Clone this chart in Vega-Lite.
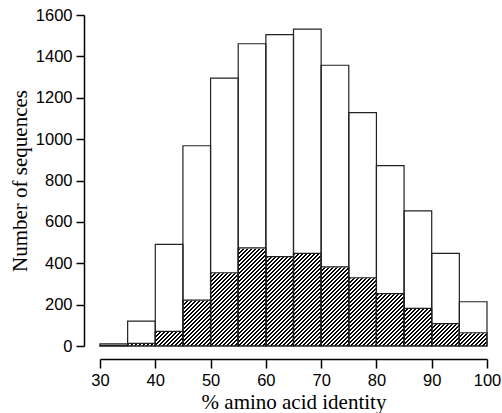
{
"$schema": "https://vega.github.io/schema/vega-lite/v6.json",
"width": 387, "height": 331,
"autosize": {"type": "none"},
"padding": {"left": 100, "top": 15, "right": 15, "bottom": 67},
"background": "white",
"config": {
 "view": {"stroke": null},
 "axis": {"grid": false, "domainColor": "black", "tickColor": "black", "domainWidth": 1.5, "tickWidth": 1.5,
  "labelFont": "Liberation Sans", "labelFontSize": 16.5, "labelColor": "black", "labelFlush": false, "labelPadding": 4,
  "titleFont": "Liberation Serif", "titleFontSize": 21, "titleFontWeight": "normal", "titleColor": "black"},
 "axisX": {"offset": 13, "tickSize": 9, "titlePadding": 3},
 "axisY": {"offset": 16, "tickSize": 8, "titlePadding": 5}
},
"data": {"values": [
 {"bin_start": 30, "bin_end": 35, "total": 10, "hatched": 3},
 {"bin_start": 35, "bin_end": 40, "total": 120, "hatched": 13},
 {"bin_start": 40, "bin_end": 45, "total": 491, "hatched": 71},
 {"bin_start": 45, "bin_end": 50, "total": 968, "hatched": 222},
 {"bin_start": 50, "bin_end": 55, "total": 1295, "hatched": 354},
 {"bin_start": 55, "bin_end": 60, "total": 1461, "hatched": 474},
 {"bin_start": 60, "bin_end": 65, "total": 1505, "hatched": 432},
 {"bin_start": 65, "bin_end": 70, "total": 1532, "hatched": 448},
 {"bin_start": 70, "bin_end": 75, "total": 1357, "hatched": 382},
 {"bin_start": 75, "bin_end": 80, "total": 1128, "hatched": 330},
 {"bin_start": 80, "bin_end": 85, "total": 872, "hatched": 253},
 {"bin_start": 85, "bin_end": 90, "total": 653, "hatched": 182},
 {"bin_start": 90, "bin_end": 95, "total": 448, "hatched": 108},
 {"bin_start": 95, "bin_end": 100, "total": 214, "hatched": 64}
]},
"layer": [
 {
  "transform": [{"aggregate": [
   {"op": "min", "field": "bin_start", "as": "bin_start"},
   {"op": "max", "field": "bin_end", "as": "bin_end"},
   {"op": "max", "field": "hatched", "as": "hatched"}]}],
  "mark": {"type": "rect", "stroke": null, "fill": {"gradient": "linear", "x1": 0, "y1": 0, "x2": 1.2141, "y2": 0.3076, "stops": [
{"offset":0,"color":"#fff"},{"offset":0.16,"color":"#fff"},
{"offset":0.16,"color":"#000"},{"offset":0.163,"color":"#000"},{"offset":0.163,"color":"#fff"},{"offset":0.168,"color":"#fff"},
{"offset":0.168,"color":"#000"},{"offset":0.171,"color":"#000"},{"offset":0.171,"color":"#fff"},{"offset":0.176,"color":"#fff"},
{"offset":0.176,"color":"#000"},{"offset":0.179,"color":"#000"},{"offset":0.179,"color":"#fff"},{"offset":0.184,"color":"#fff"},
{"offset":0.184,"color":"#000"},{"offset":0.187,"color":"#000"},{"offset":0.187,"color":"#fff"},{"offset":0.192,"color":"#fff"},
{"offset":0.192,"color":"#000"},{"offset":0.195,"color":"#000"},{"offset":0.195,"color":"#fff"},{"offset":0.2,"color":"#fff"},
{"offset":0.2,"color":"#000"},{"offset":0.203,"color":"#000"},{"offset":0.203,"color":"#fff"},{"offset":0.208,"color":"#fff"},
{"offset":0.208,"color":"#000"},{"offset":0.211,"color":"#000"},{"offset":0.211,"color":"#fff"},{"offset":0.216,"color":"#fff"},
{"offset":0.216,"color":"#000"},{"offset":0.219,"color":"#000"},{"offset":0.219,"color":"#fff"},{"offset":0.224,"color":"#fff"},
{"offset":0.224,"color":"#000"},{"offset":0.227,"color":"#000"},{"offset":0.227,"color":"#fff"},{"offset":0.232,"color":"#fff"},
{"offset":0.232,"color":"#000"},{"offset":0.235,"color":"#000"},{"offset":0.235,"color":"#fff"},{"offset":0.24,"color":"#fff"},
{"offset":0.24,"color":"#000"},{"offset":0.243,"color":"#000"},{"offset":0.243,"color":"#fff"},{"offset":0.248,"color":"#fff"},
{"offset":0.248,"color":"#000"},{"offset":0.251,"color":"#000"},{"offset":0.251,"color":"#fff"},{"offset":0.256,"color":"#fff"},
{"offset":0.256,"color":"#000"},{"offset":0.259,"color":"#000"},{"offset":0.259,"color":"#fff"},{"offset":0.264,"color":"#fff"},
{"offset":0.264,"color":"#000"},{"offset":0.267,"color":"#000"},{"offset":0.267,"color":"#fff"},{"offset":0.272,"color":"#fff"},
{"offset":0.272,"color":"#000"},{"offset":0.275,"color":"#000"},{"offset":0.275,"color":"#fff"},{"offset":0.28,"color":"#fff"},
{"offset":0.28,"color":"#000"},{"offset":0.283,"color":"#000"},{"offset":0.283,"color":"#fff"},{"offset":0.288,"color":"#fff"},
{"offset":0.288,"color":"#000"},{"offset":0.291,"color":"#000"},{"offset":0.291,"color":"#fff"},{"offset":0.296,"color":"#fff"},
{"offset":0.296,"color":"#000"},{"offset":0.299,"color":"#000"},{"offset":0.299,"color":"#fff"},{"offset":0.304,"color":"#fff"},
{"offset":0.304,"color":"#000"},{"offset":0.307,"color":"#000"},{"offset":0.307,"color":"#fff"},{"offset":0.312,"color":"#fff"},
{"offset":0.312,"color":"#000"},{"offset":0.315,"color":"#000"},{"offset":0.315,"color":"#fff"},{"offset":0.32,"color":"#fff"},
{"offset":0.32,"color":"#000"},{"offset":0.323,"color":"#000"},{"offset":0.323,"color":"#fff"},{"offset":0.328,"color":"#fff"},
{"offset":0.328,"color":"#000"},{"offset":0.331,"color":"#000"},{"offset":0.331,"color":"#fff"},{"offset":0.336,"color":"#fff"},
{"offset":0.336,"color":"#000"},{"offset":0.339,"color":"#000"},{"offset":0.339,"color":"#fff"},{"offset":0.344,"color":"#fff"},
{"offset":0.344,"color":"#000"},{"offset":0.347,"color":"#000"},{"offset":0.347,"color":"#fff"},{"offset":0.352,"color":"#fff"},
{"offset":0.352,"color":"#000"},{"offset":0.355,"color":"#000"},{"offset":0.355,"color":"#fff"},{"offset":0.36,"color":"#fff"},
{"offset":0.36,"color":"#000"},{"offset":0.363,"color":"#000"},{"offset":0.363,"color":"#fff"},{"offset":0.368,"color":"#fff"},
{"offset":0.368,"color":"#000"},{"offset":0.371,"color":"#000"},{"offset":0.371,"color":"#fff"},{"offset":0.376,"color":"#fff"},
{"offset":0.376,"color":"#000"},{"offset":0.379,"color":"#000"},{"offset":0.379,"color":"#fff"},{"offset":0.384,"color":"#fff"},
{"offset":0.384,"color":"#000"},{"offset":0.387,"color":"#000"},{"offset":0.387,"color":"#fff"},{"offset":0.392,"color":"#fff"},
{"offset":0.392,"color":"#000"},{"offset":0.395,"color":"#000"},{"offset":0.395,"color":"#fff"},{"offset":0.4,"color":"#fff"},
{"offset":0.4,"color":"#000"},{"offset":0.403,"color":"#000"},{"offset":0.403,"color":"#fff"},{"offset":0.408,"color":"#fff"},
{"offset":0.408,"color":"#000"},{"offset":0.411,"color":"#000"},{"offset":0.411,"color":"#fff"},{"offset":0.416,"color":"#fff"},
{"offset":0.416,"color":"#000"},{"offset":0.419,"color":"#000"},{"offset":0.419,"color":"#fff"},{"offset":0.424,"color":"#fff"},
{"offset":0.424,"color":"#000"},{"offset":0.427,"color":"#000"},{"offset":0.427,"color":"#fff"},{"offset":0.432,"color":"#fff"},
{"offset":0.432,"color":"#000"},{"offset":0.435,"color":"#000"},{"offset":0.435,"color":"#fff"},{"offset":0.44,"color":"#fff"},
{"offset":0.44,"color":"#000"},{"offset":0.443,"color":"#000"},{"offset":0.443,"color":"#fff"},{"offset":0.448,"color":"#fff"},
{"offset":0.448,"color":"#000"},{"offset":0.451,"color":"#000"},{"offset":0.451,"color":"#fff"},{"offset":0.456,"color":"#fff"},
{"offset":0.456,"color":"#000"},{"offset":0.459,"color":"#000"},{"offset":0.459,"color":"#fff"},{"offset":0.464,"color":"#fff"},
{"offset":0.464,"color":"#000"},{"offset":0.467,"color":"#000"},{"offset":0.467,"color":"#fff"},{"offset":0.472,"color":"#fff"},
{"offset":0.472,"color":"#000"},{"offset":0.475,"color":"#000"},{"offset":0.475,"color":"#fff"},{"offset":0.48,"color":"#fff"},
{"offset":0.48,"color":"#000"},{"offset":0.483,"color":"#000"},{"offset":0.483,"color":"#fff"},{"offset":0.488,"color":"#fff"},
{"offset":0.488,"color":"#000"},{"offset":0.491,"color":"#000"},{"offset":0.491,"color":"#fff"},{"offset":0.496,"color":"#fff"},
{"offset":0.496,"color":"#000"},{"offset":0.499,"color":"#000"},{"offset":0.499,"color":"#fff"},{"offset":0.504,"color":"#fff"},
{"offset":0.504,"color":"#000"},{"offset":0.507,"color":"#000"},{"offset":0.507,"color":"#fff"},{"offset":0.512,"color":"#fff"},
{"offset":0.512,"color":"#000"},{"offset":0.515,"color":"#000"},{"offset":0.515,"color":"#fff"},{"offset":0.52,"color":"#fff"},
{"offset":0.52,"color":"#000"},{"offset":0.523,"color":"#000"},{"offset":0.523,"color":"#fff"},{"offset":0.528,"color":"#fff"},
{"offset":0.528,"color":"#000"},{"offset":0.531,"color":"#000"},{"offset":0.531,"color":"#fff"},{"offset":0.536,"color":"#fff"},
{"offset":0.536,"color":"#000"},{"offset":0.539,"color":"#000"},{"offset":0.539,"color":"#fff"},{"offset":0.544,"color":"#fff"},
{"offset":0.544,"color":"#000"},{"offset":0.547,"color":"#000"},{"offset":0.547,"color":"#fff"},{"offset":0.552,"color":"#fff"},
{"offset":0.552,"color":"#000"},{"offset":0.555,"color":"#000"},{"offset":0.555,"color":"#fff"},{"offset":0.56,"color":"#fff"},
{"offset":0.56,"color":"#000"},{"offset":0.563,"color":"#000"},{"offset":0.563,"color":"#fff"},{"offset":0.568,"color":"#fff"},
{"offset":0.568,"color":"#000"},{"offset":0.571,"color":"#000"},{"offset":0.571,"color":"#fff"},{"offset":0.576,"color":"#fff"},
{"offset":0.576,"color":"#000"},{"offset":0.579,"color":"#000"},{"offset":0.579,"color":"#fff"},{"offset":0.584,"color":"#fff"},
{"offset":0.584,"color":"#000"},{"offset":0.587,"color":"#000"},{"offset":0.587,"color":"#fff"},{"offset":0.592,"color":"#fff"},
{"offset":0.592,"color":"#000"},{"offset":0.595,"color":"#000"},{"offset":0.595,"color":"#fff"},{"offset":0.6,"color":"#fff"},
{"offset":0.6,"color":"#000"},{"offset":0.603,"color":"#000"},{"offset":0.603,"color":"#fff"},{"offset":0.608,"color":"#fff"},
{"offset":0.608,"color":"#000"},{"offset":0.611,"color":"#000"},{"offset":0.611,"color":"#fff"},{"offset":0.616,"color":"#fff"},
{"offset":0.616,"color":"#000"},{"offset":0.619,"color":"#000"},{"offset":0.619,"color":"#fff"},{"offset":0.624,"color":"#fff"},
{"offset":0.624,"color":"#000"},{"offset":0.627,"color":"#000"},{"offset":0.627,"color":"#fff"},{"offset":0.632,"color":"#fff"},
{"offset":0.632,"color":"#000"},{"offset":0.635,"color":"#000"},{"offset":0.635,"color":"#fff"},{"offset":0.64,"color":"#fff"},
{"offset":0.64,"color":"#000"},{"offset":0.643,"color":"#000"},{"offset":0.643,"color":"#fff"},{"offset":0.648,"color":"#fff"},
{"offset":0.648,"color":"#000"},{"offset":0.651,"color":"#000"},{"offset":0.651,"color":"#fff"},{"offset":0.656,"color":"#fff"},
{"offset":0.656,"color":"#000"},{"offset":0.659,"color":"#000"},{"offset":0.659,"color":"#fff"},{"offset":0.664,"color":"#fff"},
{"offset":0.664,"color":"#000"},{"offset":0.667,"color":"#000"},{"offset":0.667,"color":"#fff"},{"offset":0.672,"color":"#fff"},
{"offset":0.672,"color":"#000"},{"offset":0.675,"color":"#000"},{"offset":0.675,"color":"#fff"},{"offset":0.68,"color":"#fff"},
{"offset":0.68,"color":"#000"},{"offset":0.683,"color":"#000"},{"offset":0.683,"color":"#fff"},{"offset":0.688,"color":"#fff"},
{"offset":0.688,"color":"#000"},{"offset":0.691,"color":"#000"},{"offset":0.691,"color":"#fff"},{"offset":0.696,"color":"#fff"},
{"offset":0.696,"color":"#000"},{"offset":0.699,"color":"#000"},{"offset":0.699,"color":"#fff"},{"offset":0.704,"color":"#fff"},
{"offset":0.704,"color":"#000"},{"offset":0.707,"color":"#000"},{"offset":0.707,"color":"#fff"},{"offset":0.712,"color":"#fff"},
{"offset":0.712,"color":"#000"},{"offset":0.715,"color":"#000"},{"offset":0.715,"color":"#fff"},{"offset":0.72,"color":"#fff"},
{"offset":0.72,"color":"#000"},{"offset":0.723,"color":"#000"},{"offset":0.723,"color":"#fff"},{"offset":0.728,"color":"#fff"},
{"offset":0.728,"color":"#000"},{"offset":0.731,"color":"#000"},{"offset":0.731,"color":"#fff"},{"offset":0.736,"color":"#fff"},
{"offset":0.736,"color":"#000"},{"offset":0.739,"color":"#000"},{"offset":0.739,"color":"#fff"},{"offset":0.744,"color":"#fff"},
{"offset":0.744,"color":"#000"},{"offset":0.747,"color":"#000"},{"offset":0.747,"color":"#fff"},{"offset":0.752,"color":"#fff"},
{"offset":0.752,"color":"#000"},{"offset":0.755,"color":"#000"},{"offset":0.755,"color":"#fff"},{"offset":0.76,"color":"#fff"},
{"offset":0.76,"color":"#000"},{"offset":0.763,"color":"#000"},{"offset":0.763,"color":"#fff"},{"offset":0.768,"color":"#fff"},
{"offset":0.768,"color":"#000"},{"offset":0.771,"color":"#000"},{"offset":0.771,"color":"#fff"},{"offset":0.776,"color":"#fff"},
{"offset":0.776,"color":"#000"},{"offset":0.779,"color":"#000"},{"offset":0.779,"color":"#fff"},{"offset":0.784,"color":"#fff"},
{"offset":0.784,"color":"#000"},{"offset":0.787,"color":"#000"},{"offset":0.787,"color":"#fff"},{"offset":0.792,"color":"#fff"},
{"offset":0.792,"color":"#000"},{"offset":0.795,"color":"#000"},{"offset":0.795,"color":"#fff"},{"offset":0.8,"color":"#fff"},
{"offset":0.8,"color":"#000"},{"offset":0.803,"color":"#000"},{"offset":0.803,"color":"#fff"},{"offset":0.808,"color":"#fff"},
{"offset":0.808,"color":"#000"},{"offset":0.811,"color":"#000"},{"offset":0.811,"color":"#fff"},{"offset":0.816,"color":"#fff"},
{"offset":0.816,"color":"#000"},{"offset":0.819,"color":"#000"},{"offset":0.819,"color":"#fff"},{"offset":0.824,"color":"#fff"},
{"offset":0.824,"color":"#000"},{"offset":0.827,"color":"#000"},{"offset":0.827,"color":"#fff"},{"offset":0.832,"color":"#fff"},
{"offset":0.832,"color":"#000"},{"offset":0.835,"color":"#000"},{"offset":0.835,"color":"#fff"},{"offset":0.84,"color":"#fff"},
{"offset":0.84,"color":"#000"},{"offset":0.843,"color":"#000"},{"offset":0.843,"color":"#fff"},{"offset":0.848,"color":"#fff"},
{"offset":0.848,"color":"#000"},{"offset":0.851,"color":"#000"},{"offset":0.851,"color":"#fff"},{"offset":0.856,"color":"#fff"},
{"offset":0.856,"color":"#000"},{"offset":0.859,"color":"#000"},{"offset":0.859,"color":"#fff"},{"offset":0.864,"color":"#fff"},
{"offset":0.864,"color":"#000"},{"offset":0.867,"color":"#000"},{"offset":0.867,"color":"#fff"},{"offset":0.872,"color":"#fff"},
{"offset":0.872,"color":"#000"},{"offset":0.875,"color":"#000"},{"offset":0.875,"color":"#fff"},{"offset":0.88,"color":"#fff"},
{"offset":0.88,"color":"#000"},{"offset":0.883,"color":"#000"},{"offset":0.883,"color":"#fff"},{"offset":0.888,"color":"#fff"},
{"offset":0.888,"color":"#000"},{"offset":0.891,"color":"#000"},{"offset":0.891,"color":"#fff"},{"offset":0.896,"color":"#fff"},
{"offset":0.896,"color":"#000"},{"offset":0.899,"color":"#000"},{"offset":0.899,"color":"#fff"},{"offset":0.904,"color":"#fff"},
{"offset":0.904,"color":"#000"},{"offset":0.907,"color":"#000"},{"offset":0.907,"color":"#fff"},{"offset":0.912,"color":"#fff"},
{"offset":0.912,"color":"#000"},{"offset":0.915,"color":"#000"},{"offset":0.915,"color":"#fff"},{"offset":0.92,"color":"#fff"},
{"offset":0.92,"color":"#000"},{"offset":0.923,"color":"#000"},{"offset":0.923,"color":"#fff"},{"offset":0.928,"color":"#fff"},
{"offset":0.928,"color":"#000"},{"offset":0.931,"color":"#000"},{"offset":0.931,"color":"#fff"},{"offset":0.936,"color":"#fff"},
{"offset":0.936,"color":"#000"},{"offset":0.939,"color":"#000"},{"offset":0.939,"color":"#fff"},{"offset":0.944,"color":"#fff"},
{"offset":0.944,"color":"#000"},{"offset":0.947,"color":"#000"},{"offset":0.947,"color":"#fff"},{"offset":0.952,"color":"#fff"},
{"offset":0.952,"color":"#000"},{"offset":0.955,"color":"#000"},{"offset":0.955,"color":"#fff"},{"offset":0.96,"color":"#fff"},
{"offset":0.96,"color":"#000"},{"offset":0.963,"color":"#000"},{"offset":0.963,"color":"#fff"},{"offset":0.968,"color":"#fff"},
{"offset":0.968,"color":"#000"},{"offset":0.971,"color":"#000"},{"offset":0.971,"color":"#fff"},{"offset":0.976,"color":"#fff"},
{"offset":0.976,"color":"#000"},{"offset":0.979,"color":"#000"},{"offset":0.979,"color":"#fff"},{"offset":0.984,"color":"#fff"},
{"offset":0.984,"color":"#000"},{"offset":0.987,"color":"#000"},{"offset":0.987,"color":"#fff"},{"offset":1,"color":"#fff"}
  ]}},
  "encoding": {
   "x": {"field": "bin_start", "type": "quantitative", "scale": {"domain": [30, 100], "nice": false, "zero": false}, "axis": {"values": [30, 40, 50, 60, 70, 80, 90, 100], "format": "d"}, "title": "% amino acid identity"},
   "x2": {"field": "bin_end"},
   "y": {"field": "hatched", "type": "quantitative", "scale": {"domain": [0, 1600], "nice": false}, "axis": {"values": [0, 200, 400, 600, 800, 1000, 1200, 1400, 1600], "format": "d"}, "title": "Number of sequences"},
   "y2": {"datum": 0}
  }
 },
 {
  "transform": [{"joinaggregate": [{"op": "max", "field": "hatched", "as": "ymax"}]}],
  "mark": {"type": "rect", "fill": "white", "stroke": "white", "strokeWidth": 1},
  "encoding": {
   "x": {"field": "bin_start", "type": "quantitative", "scale": {"domain": [30, 100], "nice": false, "zero": false}, "axis": {"values": [30, 40, 50, 60, 70, 80, 90, 100], "format": "d"}, "title": "% amino acid identity"},
   "x2": {"field": "bin_end"},
   "y": {"field": "hatched", "type": "quantitative", "scale": {"domain": [0, 1600], "nice": false}, "axis": {"values": [0, 200, 400, 600, 800, 1000, 1200, 1400, 1600], "format": "d"}, "title": "Number of sequences"},
   "y2": {"field": "ymax"}
  }
 },
 {
  "mark": {"type": "rect", "fill": "white", "fillOpacity": 0, "stroke": "#222", "strokeWidth": 1.2},
  "encoding": {
   "x": {"field": "bin_start", "type": "quantitative", "scale": {"domain": [30, 100], "nice": false, "zero": false}, "axis": {"values": [30, 40, 50, 60, 70, 80, 90, 100], "format": "d"}, "title": "% amino acid identity"},
   "x2": {"field": "bin_end"},
   "y": {"field": "total", "type": "quantitative", "scale": {"domain": [0, 1600], "nice": false}, "axis": {"values": [0, 200, 400, 600, 800, 1000, 1200, 1400, 1600], "format": "d"}, "title": "Number of sequences"},
   "y2": {"datum": 0}
  }
 },
 {
  "mark": {"type": "rect", "fill": "white", "fillOpacity": 0, "stroke": "#222", "strokeWidth": 1.2},
  "encoding": {
   "x": {"field": "bin_start", "type": "quantitative", "scale": {"domain": [30, 100], "nice": false, "zero": false}, "axis": {"values": [30, 40, 50, 60, 70, 80, 90, 100], "format": "d"}, "title": "% amino acid identity"},
   "x2": {"field": "bin_end"},
   "y": {"field": "hatched", "type": "quantitative", "scale": {"domain": [0, 1600], "nice": false}, "axis": {"values": [0, 200, 400, 600, 800, 1000, 1200, 1400, 1600], "format": "d"}, "title": "Number of sequences"},
   "y2": {"datum": 0}
  }
 }
]
}
